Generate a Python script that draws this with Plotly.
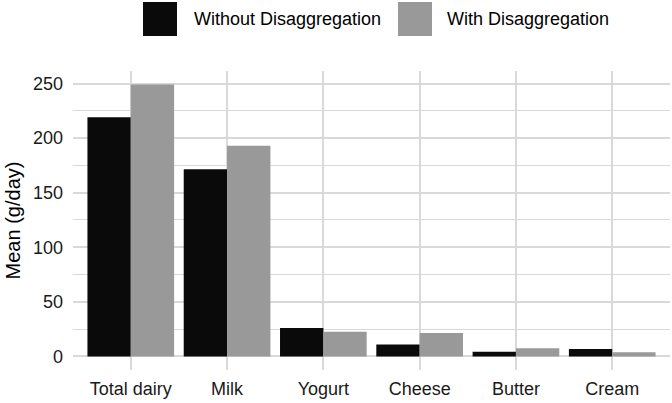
import plotly.graph_objects as go

# Data
categories = ["Total dairy", "Milk", "Yogurt", "Cheese", "Butter", "Cream"]
without_disagg = [219, 171.5, 26, 11, 4.3, 6.8]
with_disagg = [249, 193, 22.5, 21.5, 7.5, 3.8]
series_names = ["Without Disaggregation", "With Disaggregation"]
series_colors = ["#0a0a0a", "#999999"]
y_ticks = [0, 50, 100, 150, 200, 250]
y_minor = [25, 75, 125, 175, 225]

FONT = "Liberation Sans, Arial, sans-serif"
GRID = "#d9d9d9"
W, H = 672, 403
L, R, T, B = 73, 2, 71, 33


def px_x(px):
    return (px - L) / (W - L - R)


def px_y(py):
    return (H - B - py) / (H - T - B)


fig = go.Figure()
for name, vals, color in zip(series_names, [without_disagg, with_disagg], series_colors):
    fig.add_trace(
        go.Bar(
            x=categories,
            y=vals,
            name=name,
            marker=dict(color=color, line=dict(width=0)),
            showlegend=False,
        )
    )

# Manual legend on top (large square keys like ggplot)
key_left = [143, 398]
text_left = [192, 445]
shapes = []
annotations = []
for kx, tx, name, color in zip(key_left, text_left, series_names, series_colors):
    shapes.append(
        dict(type="rect", xref="paper", yref="paper",
             x0=px_x(kx), x1=px_x(kx + 34), y0=px_y(36), y1=px_y(2),
             fillcolor=color, line=dict(width=0), layer="above")
    )
    annotations.append(
        dict(text=name, xref="paper", yref="paper", x=px_x(tx), y=px_y(19),
             xanchor="left", yanchor="middle", showarrow=False,
             font=dict(size=18, color="#000000"))
    )

fig.update_layout(
    width=W,
    height=H,
    margin=dict(l=L, r=R, t=T, b=B, autoexpand=False),
    paper_bgcolor="white",
    plot_bgcolor="white",
    barmode="group",
    bargap=0.1,
    bargroupgap=0,
    font=dict(family=FONT, size=18, color="#1a1a1a"),
    xaxis=dict(
        range=[-0.6, 5.6],
        showgrid=True,
        gridcolor=GRID,
        gridwidth=1.5,
        ticks="",
        ticklabelstandoff=6,
        tickfont=dict(size=18, color="#1a1a1a"),
        showline=False,
        zeroline=False,
        automargin=False,
    ),
    yaxis=dict(
        range=[-12.45, 261.45],
        tickvals=y_ticks,
        showgrid=True,
        gridcolor=GRID,
        gridwidth=1.5,
        ticks="",
        ticklabelstandoff=9,
        tickfont=dict(size=18, color="#1a1a1a"),
        zeroline=False,
        showline=False,
        automargin=False,
        minor=dict(tickvals=y_minor, showgrid=True,
                   gridcolor=GRID, gridwidth=1.2, ticks=""),
        title=dict(text="Mean (g/day)", font=dict(size=20, color="#000000"), standoff=6),
    ),
    shapes=shapes,
    annotations=annotations,
)

fig.write_html(
    "out.html",
    config={"displayModeBar": False},
    post_script="document.body.style.margin='0';",
)
